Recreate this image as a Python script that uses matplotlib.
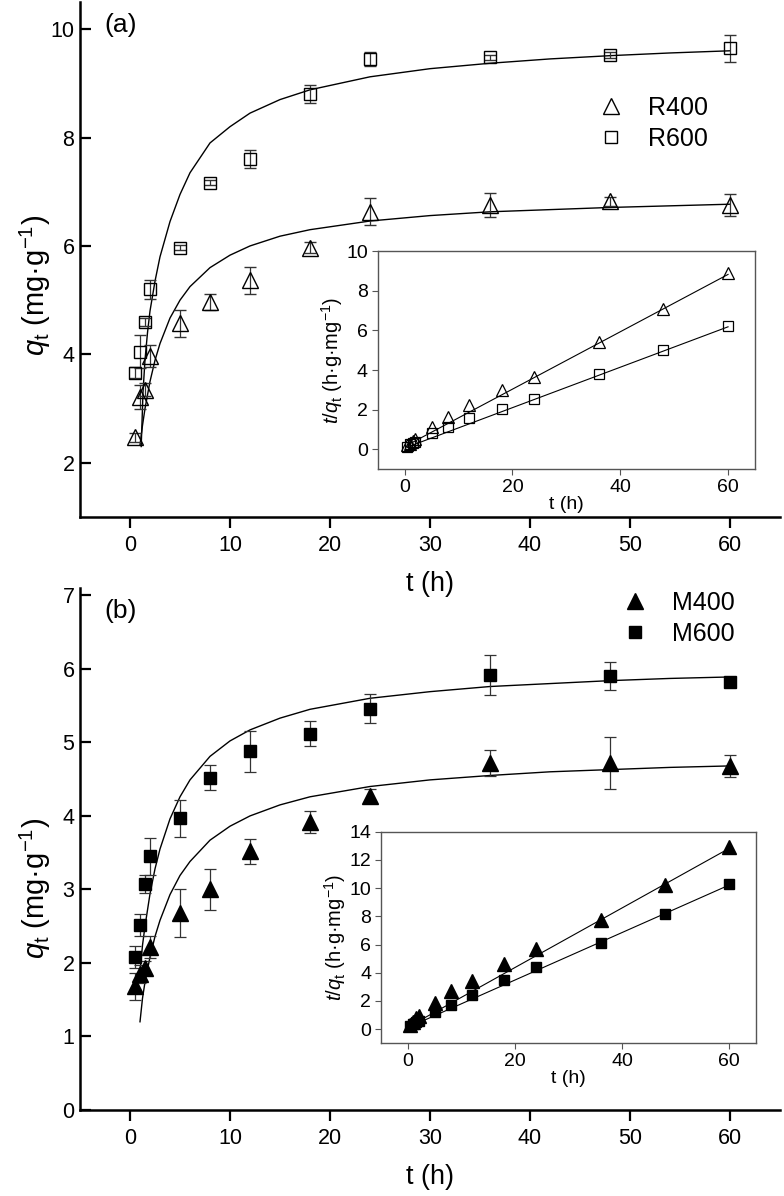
import matplotlib
matplotlib.use("Agg")
import matplotlib.pyplot as plt
from matplotlib.lines import Line2D

plt.rcParams["font.family"] = ["Liberation Sans", "DejaVu Sans"]
plt.rcParams["mathtext.fontset"] = "custom"
plt.rcParams["mathtext.rm"] = "Liberation Sans"
plt.rcParams["mathtext.it"] = "Liberation Sans:italic"

# sampling times (h)
t = [0.5, 1, 1.5, 2, 5, 8, 12, 18, 24, 36, 48, 60]

# panel (a): qt (mg/g) with error bars
R400 = [2.47, 3.22, 3.35, 3.97, 4.57, 4.97, 5.37, 5.97, 6.63, 6.75, 6.82, 6.76]
R400_err = [0.08, 0.22, 0.12, 0.2, 0.25, 0.15, 0.25, 0.1, 0.25, 0.22, 0.08, 0.2]
R600 = [3.66, 4.05, 4.6, 5.2, 5.97, 7.17, 7.6, 8.8, 9.45, 9.48, 9.52, 9.65]
R600_err = [0.1, 0.3, 0.08, 0.18, 0.05, 0.05, 0.17, 0.17, 0.13, 0.05, 0.05, 0.25]

# panel (a): fitted curves
R400_fit_t = [1.0, 1.25, 1.5, 2, 2.5, 3, 4, 5, 6, 8, 10, 12, 15, 18, 24, 30, 36, 42, 48, 54, 60]
R400_fit_q = [2.33, 2.69, 3.0, 3.5, 3.89, 4.2, 4.67, 5.0, 5.25, 5.6, 5.83, 6.0, 6.18, 6.3,
              6.46, 6.56, 6.63, 6.67, 6.71, 6.74, 6.77]
R600_fit_t = [1.12, 1.3, 1.5, 1.75, 2, 2.5, 3, 4, 5, 6, 8, 10, 12, 15, 18, 24, 30, 36, 42, 48, 54, 60]
R600_fit_q = [2.3, 3.3, 3.9, 4.4, 4.8, 5.35, 5.8, 6.45, 6.95, 7.35, 7.9, 8.2, 8.45, 8.7, 8.88,
              9.12, 9.27, 9.37, 9.45, 9.51, 9.56, 9.6]

# panel (a) inset: t/qt
R400_tq = [0.2, 0.3, 0.45, 0.55, 1.15, 1.65, 2.25, 3.0, 3.65, 5.4, 7.1, 8.9]
R600_tq = [0.14, 0.25, 0.33, 0.38, 0.85, 1.12, 1.6, 2.05, 2.55, 3.8, 5.0, 6.2]
lin_t = [0.5, 60]
R400_lin = [0.22, 8.82]
R600_lin = [0.12, 6.18]

# panel (b)
M400 = [1.68, 1.85, 1.93, 2.22, 2.68, 3.0, 3.52, 3.92, 4.27, 4.72, 4.72, 4.68]
M400_err = [0.18, 0.12, 0.1, 0.15, 0.33, 0.28, 0.17, 0.15, 0.1, 0.18, 0.36, 0.15]
M600 = [2.08, 2.52, 3.07, 3.45, 3.97, 4.52, 4.88, 5.12, 5.46, 5.92, 5.9, 5.82]
M600_err = [0.15, 0.15, 0.12, 0.25, 0.25, 0.17, 0.28, 0.17, 0.2, 0.27, 0.19, 0.05]

M400_fit_t = [1.0, 1.25, 1.5, 2, 2.5, 3, 4, 5, 6, 8, 10, 12, 15, 18, 24, 30, 36, 42, 48, 54, 60]
M400_fit_q = [1.2, 1.52, 1.74, 2.08, 2.36, 2.58, 2.93, 3.19, 3.38, 3.67, 3.86, 4.0, 4.15, 4.26,
              4.4, 4.49, 4.55, 4.6, 4.63, 4.66, 4.68]
M600_fit_t = [1.05, 1.25, 1.5, 2, 2.5, 3, 4, 5, 6, 8, 10, 12, 15, 18, 24, 30, 36, 42, 48, 54, 60]
M600_fit_q = [1.95, 2.24, 2.5, 2.94, 3.28, 3.55, 3.96, 4.26, 4.49, 4.81, 5.02, 5.17, 5.33, 5.45,
              5.6, 5.69, 5.76, 5.8, 5.84, 5.87, 5.89]

M400_tq = [0.3, 0.54, 0.78, 0.9, 1.85, 2.7, 3.4, 4.6, 5.65, 7.75, 10.25, 12.9]
M600_tq = [0.24, 0.4, 0.49, 0.58, 1.25, 1.75, 2.45, 3.5, 4.4, 6.1, 8.15, 10.3]
M400_lin = [0.25, 12.82]
M600_lin = [0.2, 10.22]

W, H = 784, 1196
fig = plt.figure(figsize=(W / 100, H / 100), dpi=100)


def rect(x0, y0, x1, y1):
    return [x0 / W, 1 - y1 / H, (x1 - x0) / W, (y1 - y0) / H]


ecol = "#333333"


def main_axes(ax, ylim, yticks):
    ax.patch.set_visible(False)
    ax.set_xlim(-5, 65)
    ax.set_ylim(*ylim)
    ax.set_xticks(range(0, 61, 10))
    ax.set_yticks(yticks)
    for s in ("top", "right"):
        ax.spines[s].set_visible(False)
    for s in ("left", "bottom"):
        ax.spines[s].set_linewidth(1.8)
    ax.tick_params(length=8, width=1.6, labelsize=15.5)
    ax.tick_params(axis="x", direction="out", pad=5)
    ax.tick_params(axis="y", direction="in", pad=4)
    ax.set_xlabel("t (h)", fontsize=19.5, labelpad=11)
    ax.set_ylabel(r"$q_\mathrm{t}$ (mg·g$^{-1}$)", fontsize=21)


def inset_axes(ax, ylim, yticks):
    ax.set_xlim(-5, 65)
    ax.set_ylim(*ylim)
    ax.set_xticks([0, 20, 40, 60])
    ax.set_yticks(yticks)
    for s in ax.spines.values():
        s.set_color("#555555")
        s.set_linewidth(1.0)
    ax.tick_params(direction="out", length=4, width=0.8, color="#555555",
                   labelsize=14, pad=3)
    ax.set_xlabel("t (h)", fontsize=14, labelpad=0)
    ax.set_ylabel(r"$t/q_\mathrm{t}$ (h·g·mg$^{-1}$)", fontsize=14.5, labelpad=1)


# ---------------- panel (a)
ax1 = fig.add_axes(rect(80, 2, 780, 517))
ax1.plot(R400_fit_t, R400_fit_q, color="k", lw=1.0)
ax1.plot(R600_fit_t, R600_fit_q, color="k", lw=1.0)
ax1.errorbar(t, R400, yerr=R400_err, fmt="^", ms=12, mfc="none", mec="k", mew=1.0,
             ecolor=ecol, elinewidth=0.9, capsize=4, capthick=0.9)
ax1.errorbar(t, R600, yerr=R600_err, fmt="s", ms=8.5, mfc="none", mec="k", mew=1.0,
             ecolor=ecol, elinewidth=0.9, capsize=4, capthick=0.9)
main_axes(ax1, (1.0, 10.5), [2, 4, 6, 8, 10])
ax1.yaxis.set_label_coords(-0.038, 0.45)
ax1.text(0.035, 0.955, "(a)", transform=ax1.transAxes, fontsize=19, va="center")
h = [Line2D([], [], ls="none", marker="^", ms=11, mfc="none", mec="k"),
     Line2D([], [], ls="none", marker="s", ms=8, mfc="none", mec="k")]
ax1.legend(h, ["R400", "R600"], loc="upper left", bbox_to_anchor=(0.74, 0.818),
           frameon=False, fontsize=18, handlelength=1.0, handletextpad=1.0,
           labelspacing=0.3, borderpad=0, borderaxespad=0)

in1 = fig.add_axes(rect(377.7, 251, 755, 469.3))
in1.plot(lin_t, R400_lin, color="k", lw=0.8)
in1.plot(lin_t, R600_lin, color="k", lw=0.8)
in1.plot(t, R400_tq, ls="none", marker="^", ms=9, mfc="none", mec="k", mew=0.9)
in1.plot(t, R600_tq, ls="none", marker="s", ms=6.5, mfc="none", mec="k", mew=0.9)
inset_axes(in1, (-1, 10), [0, 2, 4, 6, 8, 10])

# ---------------- panel (b)
ax2 = fig.add_axes(rect(80, 588, 780, 1110))
ax2.plot(M400_fit_t, M400_fit_q, color="k", lw=1.0)
ax2.plot(M600_fit_t, M600_fit_q, color="k", lw=1.0)
ax2.errorbar(t, M400, yerr=M400_err, fmt="^", ms=11.5, mfc="k", mec="k",
             ecolor=ecol, elinewidth=0.9, capsize=4, capthick=0.9)
ax2.errorbar(t, M600, yerr=M600_err, fmt="s", ms=8, mfc="k", mec="k",
             ecolor=ecol, elinewidth=0.9, capsize=4, capthick=0.9)
main_axes(ax2, (0, 7.1), range(0, 8))
ax2.yaxis.set_label_coords(-0.038, 0.425)
ax2.text(0.035, 0.955, "(b)", transform=ax2.transAxes, fontsize=19, va="center")
h = [Line2D([], [], ls="none", marker="^", ms=12, mfc="k", mec="k"),
     Line2D([], [], ls="none", marker="s", ms=8.5, mfc="k", mec="k")]
ax2.legend(h, ["M400", "M600"], loc="upper left", bbox_to_anchor=(0.775, 0.995),
           frameon=False, fontsize=18, handlelength=1.0, handletextpad=1.0,
           labelspacing=0.3, borderpad=0, borderaxespad=0)

in2 = fig.add_axes(rect(381, 831.7, 756, 1043.3))
in2.plot(lin_t, M400_lin, color="k", lw=0.8)
in2.plot(lin_t, M600_lin, color="k", lw=0.8)
in2.plot(t, M400_tq, ls="none", marker="^", ms=9.5, mfc="k", mec="k")
in2.plot(t, M600_tq, ls="none", marker="s", ms=7, mfc="k", mec="k")
inset_axes(in2, (-1, 14), range(0, 15, 2))

fig.savefig("out.png", dpi=100)
